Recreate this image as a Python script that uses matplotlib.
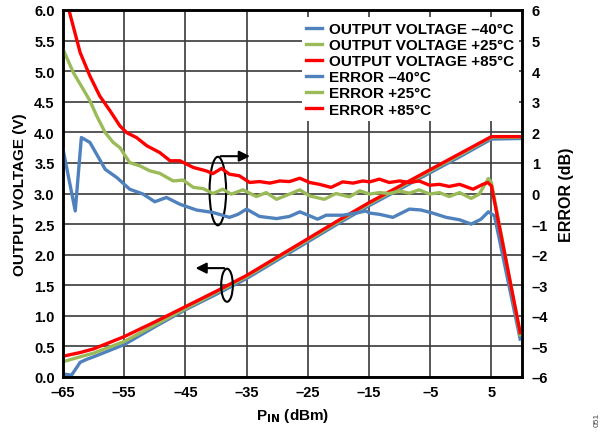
import matplotlib.pyplot as plt
from matplotlib.patches import Ellipse

plt.rcParams['font.family'] = ['Liberation Sans', 'DejaVu Sans']
plt.rcParams['font.weight'] = 'bold'

BLUE = '#4f81bd'
GREEN = '#9bbb59'
RED = '#ff0000'

# output voltage (V) vs input power (dBm)
pin_v = [-65, -63.6, -62.2, -61.1, -60, -55, -50, -45, -40, -35, -30, -25, -20, -15, -10, -5, 0, 5, 10]
vout_m40 = [0.05, 0.03, 0.24, 0.29, 0.33, 0.53, 0.82, 1.10, 1.35, 1.61, 1.91, 2.21, 2.51, 2.80, 3.07, 3.34, 3.61, 3.89, 3.90]
vout_p25 = [0.25, 0.29, 0.33, 0.36, 0.39, 0.58, 0.85, 1.12, 1.38, 1.64, 1.94, 2.24, 2.54, 2.83, 3.10, 3.37, 3.64, 3.92, 3.92]
vout_p85 = [0.34, 0.37, 0.40, 0.43, 0.46, 0.66, 0.90, 1.15, 1.40, 1.66, 1.96, 2.26, 2.56, 2.85, 3.12, 3.39, 3.66, 3.93, 3.93]

# error (dB)
pin_e_m40 = [-65, -63.0, -62.0, -60.6, -58.1, -56.2, -54.1, -51.9, -50.0, -48.1, -45.9, -43.2, -40.5,
             -37.8, -36.4, -35.0, -32.9, -30.1, -28.0, -26.3, -24.7, -23.4, -22.0, -19.3, -17.1, -15.5,
             -14.9, -13.3, -11.1, -8.4, -6.5, -4.6, -2.4, -0.2, 1.7, 3.3, 4.5, 5.5, 9.7]
err_m40 = [1.45, -0.57, 1.83, 1.67, 0.79, 0.52, 0.14, -0.02, -0.27, -0.13, -0.35, -0.54, -0.62,
           -0.78, -0.68, -0.51, -0.75, -0.82, -0.75, -0.60, -0.73, -0.84, -0.71, -0.71, -0.64, -0.57,
           -0.64, -0.68, -0.78, -0.51, -0.54, -0.64, -0.78, -0.86, -1.0, -0.84, -0.60, -0.73, -4.76]

pin_e_p25 = [-65, -63.3, -61.7, -60.6, -59.5, -58.1, -56.8, -55.7, -54.1, -52.4, -50.8, -49.2, -47.0,
             -45.4, -43.7, -42.1, -40.5, -38.9, -37.5, -35.6, -33.4, -31.8, -30.1, -28.0, -26.3, -24.7,
             -22.3, -20.4, -18.2, -16.5, -14.9, -13.3, -11.7, -10.0, -8.4, -6.8, -5.1, -3.5, -1.9, -0.2,
             1.7, 3.0, 3.8, 4.5, 5.0, 9.7]
err_p25 = [4.72, 3.95, 3.41, 3.03, 2.54, 1.99, 1.67, 1.50, 1.01, 0.90, 0.74, 0.66, 0.41,
           0.44, 0.20, 0.16, 0.0, 0.14, -0.02, 0.12, -0.10, 0.03, -0.19, -0.02, 0.12, -0.08,
           -0.19, 0.0, -0.11, 0.09, -0.02, 0.03, 0.0, 0.08, 0.01, 0.12, -0.02, 0.03, -0.10, 0.03,
           -0.16, -0.02, 0.25, 0.49, 0.36, -4.62]

pin_e_p85 = [-65, -63.9, -62.2, -60.6, -59.0, -57.3, -55.7, -54.6, -53.0, -51.3, -49.2, -47.5, -45.9,
             -43.7, -41.6, -40.5, -39.1, -37.8, -36.2, -34.5, -32.9, -31.2, -29.6, -28.0, -26.3, -24.7,
             -23.1, -21.2, -19.3, -17.6, -16.0, -14.9, -13.3, -11.7, -10.0, -8.4, -6.8, -5.1, -3.5, -1.9,
             -0.2, 2.0, 3.6, 4.4, 5.0, 9.7]
err_p85 = [6.7, 5.9, 4.61, 3.84, 3.19, 2.70, 2.21, 1.99, 1.83, 1.56, 1.34, 1.07, 1.07,
           0.85, 0.74, 0.65, 0.82, 0.63, 0.58, 0.36, 0.39, 0.34, 0.41, 0.39, 0.50, 0.36,
           0.30, 0.20, 0.38, 0.34, 0.41, 0.38, 0.47, 0.36, 0.41, 0.36, 0.41, 0.27, 0.30, 0.23,
           0.30, 0.14, 0.30, 0.36, 0.25, -4.55]

xticks = [-65, -55, -45, -35, -25, -15, -5, 5]
xlabels = ['–65', '–55', '–45', '–35', '–25', '–15', '–5', '5']
yticks = [0, 0.5, 1.0, 1.5, 2.0, 2.5, 3.0, 3.5, 4.0, 4.5, 5.0, 5.5, 6.0]
y2ticks = [-6, -5, -4, -3, -2, -1, 0, 1, 2, 3, 4, 5, 6]

fig = plt.figure(figsize=(6.04, 4.35), dpi=100)
ax = fig.add_axes([63 / 604, 1 - 378 / 435, (522 - 63) / 604, (378 - 11) / 435])
ax2 = ax.twinx()

lw = 2.4
l1, = ax.plot(pin_v, vout_m40, color=BLUE, lw=lw, label='OUTPUT VOLTAGE –40°C')
l2, = ax.plot(pin_v, vout_p25, color=GREEN, lw=lw, label='OUTPUT VOLTAGE +25°C')
l3, = ax.plot(pin_v, vout_p85, color=RED, lw=lw, label='OUTPUT VOLTAGE +85°C')
l4, = ax2.plot(pin_e_m40, err_m40, color=BLUE, lw=lw, label='ERROR –40°C')
l5, = ax2.plot(pin_e_p25, err_p25, color=GREEN, lw=lw, label='ERROR +25°C')
l6, = ax2.plot(pin_e_p85, err_p85, color=RED, lw=lw, label='ERROR +85°C')

ax.set_xlim(-65, 10)
ax.set_ylim(0, 6)
ax2.set_ylim(-6, 6)
ax.set_xticks(xticks)
ax.set_xticklabels(xlabels)
ax.set_yticks(yticks)
ax.set_yticklabels(['%.1f' % v for v in yticks])
ax2.set_yticks(y2ticks)
ax2.set_yticklabels([str(v).replace('-', '–') for v in y2ticks])

ax.grid(True, color='#3a3a3a', lw=1.2)
ax.tick_params(length=0, labelsize=10.5, pad=6)
ax2.tick_params(length=0, labelsize=10.5, pad=7)
for a in (ax, ax2):
    for s in a.spines.values():
        s.set_linewidth(1.8)
        s.set_color('black')

ax.set_ylabel('OUTPUT VOLTAGE (V)', fontsize=11, fontweight='bold', labelpad=5)
ax2.set_ylabel('ERROR (dB)', fontsize=11.5, fontweight='bold', labelpad=8)
ax.set_xlabel('P$_{\\mathbf{IN}}$ (dBm)', fontsize=11, fontweight='bold', labelpad=5)

# ellipse + arrow annotations
ax.add_patch(Ellipse((-39.7, 3.04), 2.7, 1.12, fill=False, ec='black', lw=1.5, zorder=5))
ax.annotate('', xy=(-34.0, 3.61), xytext=(-39.7, 3.61),
            arrowprops=dict(arrowstyle='-|>', color='black', lw=1.5, mutation_scale=16), zorder=5)
ax.add_patch(Ellipse((-38.2, 1.50), 1.9, 0.54, fill=False, ec='black', lw=1.5, zorder=5))
ax.annotate('', xy=(-43.8, 1.78), xytext=(-38.2, 1.78),
            arrowprops=dict(arrowstyle='-|>', color='black', lw=1.5, mutation_scale=16), zorder=5)

leg = ax2.legend(handles=[l1, l2, l3, l4, l5, l6], loc='upper left',
                 bbox_to_anchor=(0.52, 0.98), prop={'size': 11, 'weight': 'bold'},
                 handlelength=1.0, handletextpad=0.5, labelspacing=0.14,
                 borderpad=0.3, borderaxespad=0, frameon=True, fancybox=False)
leg.get_frame().set_edgecolor('none')
leg.get_frame().set_facecolor('white')
leg.get_frame().set_alpha(1)

fig.text(0.988, 0.035, '051', rotation=90, fontsize=6, fontweight='normal',
         color='#444444', ha='center', va='center')

fig.savefig('out.png', dpi=100)
